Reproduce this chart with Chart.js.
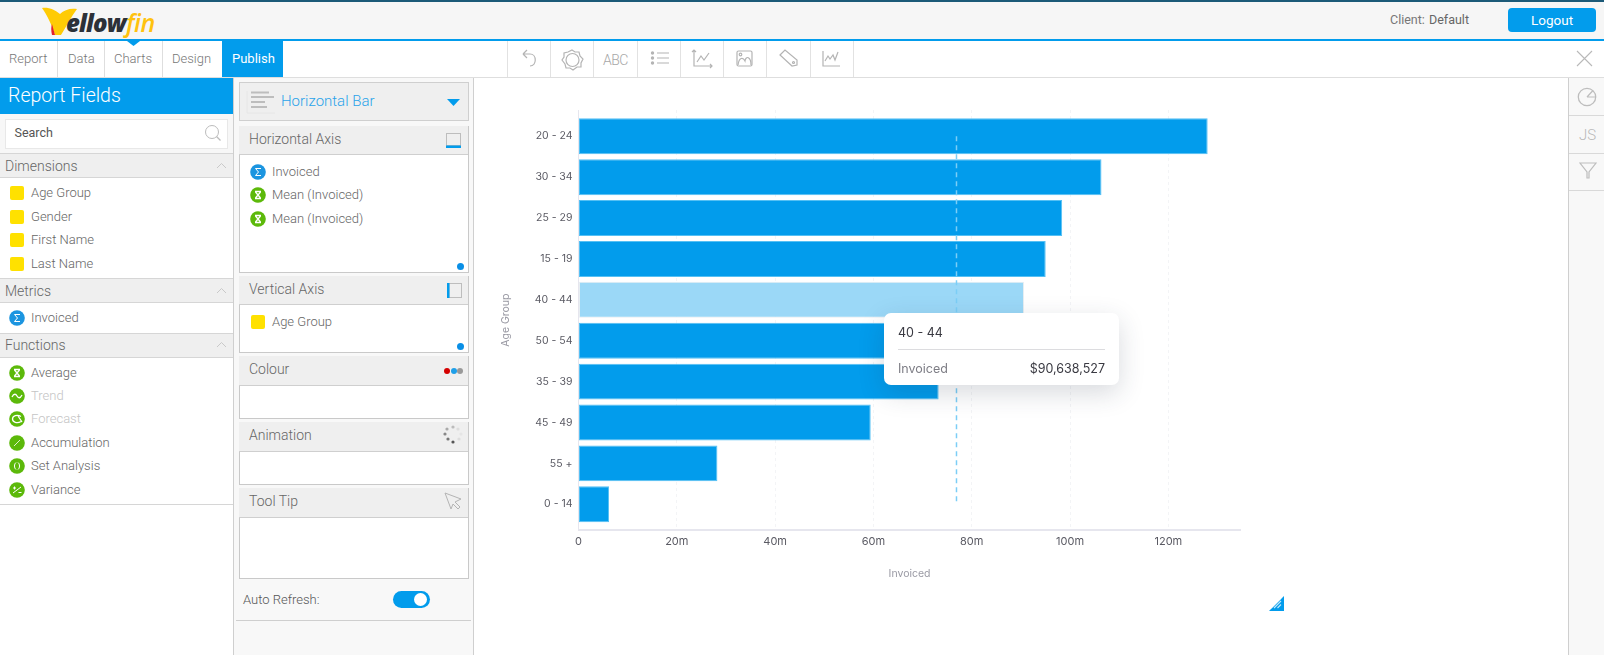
<!DOCTYPE html>
<html><head><meta charset="utf-8">
<script src="https://cdn.jsdelivr.net/npm/chart.js@4"></script>
<style>
html,body{margin:0;padding:0;background:#fff;width:1604px;height:655px;overflow:hidden;font-family:Roboto,sans-serif}
#ui div,#ui span,#ui svg{position:absolute;box-sizing:border-box}
.t{white-space:nowrap;line-height:16px;height:16px;color:#666;font-size:13px;font-weight:300}
#cv{position:absolute;left:490px;top:100px;width:800px;height:490px}
#tip{position:absolute;left:884px;top:313px;width:235px;height:72px;background:#fff;border-radius:7px;box-shadow:0 8px 26px rgba(40,50,70,.18);font-family:Inter,sans-serif;font-size:12.5px}
#tip span{position:absolute;white-space:nowrap;line-height:16px}
#tip i{position:absolute;left:14px;right:14px;top:36px;height:1px;background:#dcdcdf}
</style></head><body>
<div id="ui"></div>
<canvas id="cv" width="800" height="490"></canvas>
<div id="tip"><span id="tipTitle" style="left:14px;top:12px;color:#3a3a42"></span><i></i><span id="tipName" style="left:14px;top:48px;color:#7d7d85"></span><span id="tipVal" style="right:14px;top:48px;color:#3a3a42"></span></div>
<script>
const categories=['20 - 24','30 - 34','25 - 29','15 - 19','40 - 44','50 - 54','35 - 39','45 - 49','55 +','0 - 14'];
const invoiced=[128000000,106400000,98400000,95050000,90638527,83300000,73270000,59450000,28260000,6220000];
const highlighted='40 - 44';
const meanInvoiced=[76900000,76900000];
const meanEnds=[0,9];
const xTicks=[0,20000000,40000000,60000000,80000000,100000000,120000000];
const metricName='Invoiced';
const dimName='Age Group';

/* ---------- application chrome ---------- */
const ui=document.getElementById('ui');
function R(x,y,w,h,s){const d=document.createElement('div');d.style.cssText=`left:${x}px;top:${y}px;width:${w}px;height:${h}px;${s||''}`;ui.appendChild(d);return d}
function T(x,cy,txt,s){const d=document.createElement('div');d.className='t';d.style.cssText=`left:${x}px;top:${cy-8}px;${s||''}`;d.textContent=txt;ui.appendChild(d);return d}
function S(x,y,w,h,inner,vb){const n=document.createElement('div');n.style.cssText=`left:${x}px;top:${y}px;width:${w}px;height:${h}px`;n.innerHTML=`<svg style="left:0;top:0" width="${w}" height="${h}" viewBox="${vb||`0 0 ${w} ${h}`}" xmlns="http://www.w3.org/2000/svg">${inner}</svg>`;ui.appendChild(n)}
const BL='#029cec',LN='#d6d6d6',HD='#efefef';

// top bar
R(0,0,1604,39,'background:#f6f6f6');R(0,0,1604,1.5,'background:#1c5a78');R(0,39,1604,2,`background:${BL}`);
S(40,5,120,34,`<path d="M2 3 C9 2 15 5 20 9 C24 5 30 3 37 4 C31 12 26 22 21 30 L15 30 C12 20 7 10 2 3Z" fill="#ffcb05"/><path d="M12 19 L15 30 L12 30 C11 26 11 22 12 19Z" fill="#e3202c"/>
<text x="26" y="27" font-family="Open Sans" font-weight="800" font-style="italic" font-size="24" letter-spacing="-0.8" fill="#2c3138">ellow</text><text x="86" y="27" font-family="Open Sans" font-weight="600" font-style="italic" font-size="25" letter-spacing="-0.5" fill="#ffc20e">fin</text>`);
T(1390,19.5,'Client:','color:#777;font-size:12.5px;font-weight:400');T(1429,19.5,'Default','color:#666;font-size:12.5px;font-weight:400');
const lo=R(1508,8,88,24,`background:${BL};border-radius:4px;color:#fff;font-size:13.5px;text-align:center;line-height:25px`);lo.textContent='Logout';

// tabs row
R(0,77,1604,1,`background:#dedede`);
[['Report',9,57],['Data',68,104],['Charts',114,162],['Design',172,222]].forEach(a=>{T(a[1],59,a[0],'color:#777;font-size:13px');R(a[2],41,1,36,'background:#dedede')});
R(222,41,61,36,`background:${BL}`);T(232,59,'Publish','color:#fff;font-size:13px;font-weight:400');
S(127,41,13,5,`<path d="M0 0H13L6.5 5Z" fill="${BL}"/>`);
[506.5,549.5,593,636.5,680,722.5,766,809.5,852.5].forEach(x=>R(x,41,1,36,'background:#e2e2e2'));
const ic='fill="none" stroke="#b4b4b4" stroke-width="1.2"';
S(519,46,20,24,`<path d="M4 8 H11 C18 8 18 20 11 20 M4 8 L8 4 M4 8 L8 12" ${ic}/>`);
S(560,48,24,24,`<path d="M12 2 L15 4 L19 4 L20 8 L23 11 L21 15 L21 19 L17 19 L13 22 L10 20 L6 20 L5 16 L2 12 L4 9 L4 5 L8 4Z" ${ic}/><circle cx="12.5" cy="12" r="6.5" ${ic}/>`);
T(603,60,'ABC','color:#a8a8a8;font-size:14px;letter-spacing:-.6px;font-weight:300');
S(650,50,20,18,`<circle cx="2.5" cy="3" r="1.7" fill="#b4b4b4"/><circle cx="2.5" cy="8" r="1.7" fill="#b4b4b4"/><circle cx="2.5" cy="13" r="1.7" fill="#b4b4b4"/><path d="M7 3H19M7 8H19M7 13H19" ${ic}/>`);
S(691,49,22,20,`<path d="M3 1 V17 H21 M1 3 L3 1 L5 3 M19 15 L21 17 L19 19" ${ic}/><path d="M6 13 L10 7 L13 11 L18 4" ${ic}/>`);
S(736,50,18,18,`<rect x="1" y="1" width="15" height="15" rx="1.5" ${ic}/><circle cx="4.5" cy="4.5" r="1.3" ${ic}/><path d="M2 15 C3 7 7 7 9 11 C10 5 15 7 15 15" ${ic}/>`);
S(778,48,22,22,`<path d="M2 7 L7 2 L19 12 L19 17 L14 18Z" ${ic}/><circle cx="15.5" cy="14.5" r="1" ${ic}/>`);
S(822,50,20,18,`<path d="M1 1 V16 H18" ${ic}/><path d="M3 11 L6 6 L8 9 L11 5 L13 10 L16 2" ${ic}/>`);
S(1576,50,17,17,`<path d="M1 1 L16 16 M16 1 L1 16" stroke="#b9b9b9" stroke-width="1.1" fill="none"/>`);

// left panel
R(0,78,234,36,`background:${BL}`);T(8,96,'Report Fields','color:#fff;font-size:19.5px;font-weight:300;line-height:24px;height:24px;margin-top:-4px');
R(0,114,234,39,'background:#f7f7f7');R(5,118.5,223,30,'background:#fff;border:1px solid #e8e8e8');T(14.5,132.5,'Search','color:#555;font-size:12.5px;font-weight:400');
S(204,124,18,18,`<circle cx="8" cy="8" r="6.5" fill="none" stroke="#bcbcbc" stroke-width="1"/><path d="M12.5 12.5L16.5 16.5" stroke="#bcbcbc" stroke-width="1.2"/>`);
function head(y,h,txt){R(0,y,233.5,h,`background:${HD};border-top:1px solid ${LN};border-bottom:1px solid ${LN}`);T(5,y+h/2,txt,'color:#666;font-size:14px');S(216,y+h/2-4,11,7,`<path d="M1 6L5.5 1.5L10 6" fill="none" stroke="#c9c9c9" stroke-width="1"/>`)}
head(153,25,'Dimensions');head(278,25,'Metrics');head(332.5,25,'Functions');
function yel(x,cy){R(x,cy-7,14,14,'background:#ffe100;border-radius:2px')}
function circ(cx,cy,col,g){S(cx-8,cy-8,16,16,`<circle cx="8" cy="8" r="7.8" fill="${col}"/>${g}`)}
const sig=`<path d="M11 4.5H5.5L8.5 8L5.5 11.5H11" fill="none" stroke="#fff" stroke-width="1"/>`;
const hg=`<path d="M5 4.5H11M5 11.5H11M5.5 5L10.5 11M10.5 5L5.5 11" fill="none" stroke="#fff" stroke-width="1.3"/>`;
[['Age Group',192.5],['Gender',216.5],['First Name',239.7],['Last Name',263.5]].forEach(a=>{yel(10,a[1]);T(31,a[1],a[0])});
circ(17,318,'#1c95e0',sig);T(31,318,'Invoiced');
const G='#5cb90a';
[['Average',372.5,hg,0],['Trend',395.5,`<path d="M3 9C5 5 7 6 8 8C9 10 11 11 13 7" fill="none" stroke="#fff" stroke-width="1.3"/>`,1],['Forecast',418.5,`<path d="M12 5.5C8 3 3.5 5 3.5 8S8 13 12 10.5M9 5L13 11" fill="none" stroke="#fff" stroke-width="1.3"/>`,1],['Accumulation',442.5,`<path d="M5 11L11 5" stroke="#fff" stroke-width=".8"/>`,0],['Set Analysis',465.5,`<path d="M7 4.5C5 6 5 10 7 11.5M9 4.5C11 6 11 10 9 11.5" fill="none" stroke="#fff" stroke-width="1"/>`,0],['Variance',489.5,`<path d="M4 11L12 5M4 6H7M5.5 4.5V7.5M9.5 10.5H12.5" fill="none" stroke="#fff" stroke-width="1"/>`,0]].forEach(a=>{circ(17,a[1],G,a[2]);T(31,a[1],a[0],a[3]?'color:#c4c4c4':'')});
R(0,504,233.5,1,`background:${LN}`);
R(233,78,1,577,'background:#cfcfcf');

// middle panel
R(234,78,239,577,'background:#f8f8f8');R(473,78,1,577,'background:#cfcfcf');
R(238.5,82,230,39,`background:${HD};border:1px solid #cfcfcf`);
S(246,90,30,24,`<g fill="#bdbdbd"><rect x="5" y="1.5" width="18" height="2"/><rect x="5" y="6" width="23" height="2"/><rect x="5" y="11" width="14" height="2"/><rect x="5" y="16" width="16" height="2"/></g><path d="M1 1V23H29" stroke="#e6e6e6" fill="none"/>`);
T(281,101,'Horizontal Bar',`color:#2aa3ea;font-size:15px;font-weight:300`);
S(447,98.5,13,7,`<path d="M0 0H13L6.5 7Z" fill="${BL}"/>`);
function box(top,hb,bb,title){R(238.5,top,230,bb-top,'background:#fff;border:1px solid #c9c9c9');R(239,top+.5,229,hb-top,`background:${HD};border-bottom:1px solid #cfcfcf`);T(249,(top+hb)/2-1,title,'color:#666;font-size:14px')}
box(125.5,154.5,272.5,'Horizontal Axis');box(275.5,304.5,353,'Vertical Axis');box(355.5,385,418.5,'Colour');box(421.5,451,484.5,'Animation');box(487.5,517,578.5,'Tool Tip');
S(446,133,15,15,`<rect x=".5" y=".5" width="14" height="12" fill="none" stroke="#bdbdbd"/><rect x="0" y="12.5" width="15" height="2.5" fill="${BL}"/>`);
S(447,283,15,15,`<rect x="2" y=".5" width="12.5" height="14" fill="none" stroke="#bdbdbd"/><rect x="0" y="0" width="2.5" height="15" fill="${BL}"/>`);
circ(258,171.5,'#1c95e0',sig);T(272,171.5,metricName);
circ(258,194.5,G,hg);T(272,194.5,'Mean (Invoiced)');circ(258,218.5,G,hg);T(272,218.5,'Mean (Invoiced)');
yel(251,321.5);T(272,321.5,'Age Group');
[[460.5,266],[460.5,346]].forEach(p=>R(p[0]-3.5,p[1]-3.5,7,7,'background:#0a8fe6;border-radius:50%'));
[[447,'#d40000'],[453.5,'#1f9fe8'],[460,'#999']].forEach(a=>R(a[0]-3,367.5,6,6,`background:${a[1]};border-radius:50%`));
S(443,425,20,20,[[10,2,'#bbb'],[15,4,'#ddd'],[18,9,'#e5e5e5'],[16,14,'#ddd'],[10,17,'#555'],[5,14,'#777'],[2,9,'#888'],[4,4,'#aaa']].map(a=>`<circle cx="${a[0]}" cy="${a[1]}" r="1.6" fill="${a[2]}"/>`).join(''));
S(444,492,18,18,`<path d="M1 1L17 7L11 10L16 15L14 17L9 12L7 17Z" fill="none" stroke="#b4b4b4" stroke-width="1"/>`);
T(243,599.5,'Auto Refresh:','color:#555;font-size:13px');
R(393,591,37,17,`background:${BL};border-radius:9px`);R(414,593,13,13,'background:#fff;border-radius:50%');
R(236,620,235,1,'background:#cfcfcf');

// right rail
R(1568,78,36,577,'background:#f8f8f8;border-left:1px solid #cfcfcf');
[115,152.5,190].forEach(y=>R(1569,y,35,1,'background:#d9d9d9'));
S(1577,87,20,20,`<circle cx="10" cy="10" r="8.7" fill="none" stroke="#bdbdbd" stroke-width="1.3"/><path d="M10 10L16 3.5M10 10L18.5 10" fill="none" stroke="#bdbdbd" stroke-width="1.2"/>`);
T(1579,134.5,'JS','color:#b8b8b8;font-size:15px');
S(1579,161,18,19,`<path d="M1 2H17L10 11V17L8 17V11Z" fill="none" stroke="#bdbdbd" stroke-width="1.2"/>`);

// resize handle
S(1269,596,15,15,`<path d="M15 0V15H0Z" fill="${BL}"/><path d="M12 5L5 12M12 8.5L8.5 12M12 2L2 12" stroke="#fff" stroke-width="1.2" opacity=".75"/>`);

/* ---------- tooltip text ---------- */
const hi=categories.indexOf(highlighted);
document.getElementById('tipTitle').textContent=categories[hi];
document.getElementById('tipName').textContent=metricName;
document.getElementById('tipVal').textContent='$'+invoiced[hi].toLocaleString('en-US');

/* ---------- chart ---------- */
const points=categories.map((c,i)=>({x:invoiced[i],y:i}));
const meanLine=meanEnds.map((y,i)=>({x:meanInvoiced[i],y}));
const grey='#e6e6ee';
new Chart(document.getElementById('cv'),{
  type:'bar',
  data:{labels:categories,datasets:[
    {type:'scatter',label:'Mean (Invoiced)',data:meanLine,showLine:true,pointRadius:0,borderColor:'#7ccef6',borderWidth:1.5,borderDash:[5,4],order:0,xAxisID:'x',yAxisID:'y'},
    {label:metricName,data:points,order:1,xAxisID:'x',yAxisID:'y',
     backgroundColor:categories.map(c=>c===highlighted?'#9bd8f7':'#029cec'),
     borderColor:categories.map(c=>c===highlighted?'#e8eef2':'#55c0f4'),
     borderWidth:1,borderSkipped:false,categoryPercentage:1,barPercentage:.88}
  ]},
  options:{
    indexAxis:'y',responsive:false,animation:false,events:[],
    layout:{padding:{top:10,right:49.4,left:0,bottom:0}},
    plugins:{legend:{display:false},tooltip:{enabled:false}},
    scales:{
      x:{type:'linear',position:'bottom',min:0,max:134700000,offset:false,
        afterFit(s){s.height=59.7;s.paddingLeft=0;s.paddingRight=0},
        afterBuildTicks(s){s.ticks=xTicks.map(value=>({value}))},
        grid:{color:'#f3f4f6',tickLength:0,drawTicks:false,offset:false},
        border:{color:grey,width:2,dash:[3,3]},
        ticks:{padding:5,color:'#5a5a63',font:{family:'Inter',size:11},maxRotation:0,autoSkip:false,callback:v=>v===0?'0':(v/1e6)+'m'},
        title:{display:true,text:metricName,color:'#9a9aa4',font:{family:'Inter',size:10.5},padding:{top:0,bottom:9.5}}},
      y:{type:'linear',position:'left',reverse:true,min:-0.644,max:9.637,offset:false,
        afterFit(s){s.width=88.5;s.paddingTop=0;s.paddingBottom=0},
        afterBuildTicks(s){s.ticks=categories.map((c,i)=>({value:i}))},
        grid:{display:false,drawTicks:false,offset:false},
        border:{color:grey,width:1},
        ticks:{padding:6,color:'#5a5a63',font:{family:'Inter',size:10.5},autoSkip:false,callback:v=>categories[v]},
        title:{display:true,text:dimName,color:'#9a9aa4',font:{family:'Inter',size:10.5},padding:{top:9.5,bottom:0}}}
    }
  }
});
</script></body></html>
